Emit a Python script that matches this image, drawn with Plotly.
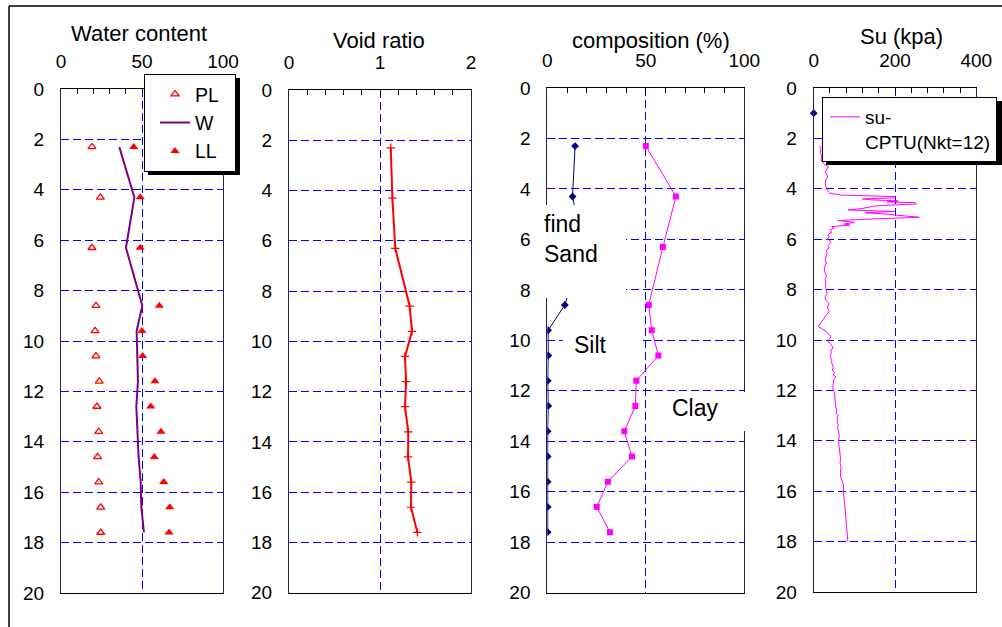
import plotly.graph_objects as go

# ---------------- data ----------------
depth = [2.3, 4.3, 6.3, 8.6, 9.6, 10.6, 11.6, 12.6, 13.6, 14.6, 15.6, 16.6, 17.6]
pl_vals = [19.1, 24.3, 19.1, 21.6, 21.0, 21.6, 23.6, 22.2, 23.3, 22.6, 23.3, 24.5, 24.5]
w_vals = [36.0, 45.3, 40.1, 50.2, 46.7, 46.9, 47.5, 46.5, 47.3, 47.9, 49.2, 49.6, 51.2]
ll_vals = [44.9, 48.9, 48.9, 60.7, 50.0, 50.4, 58.0, 55.4, 61.7, 57.6, 63.4, 67.1, 66.7]
void_vals = [1.118, 1.136, 1.168, 1.326, 1.352, 1.275, 1.286, 1.275, 1.311, 1.308, 1.344, 1.341, 1.41]
sand_vals = [14.1, 12.8, 18.0, 8.9, 0.4, 0.5, 0.2, 0.5, 0.2, 0.2, 0.2, 0.2, 0.2]
clay_vals = [50.0, 65.3, 58.7, 51.5, 53.0, 56.4, 45.2, 44.7, 39.1, 43.0, 30.8, 25.1, 31.8]

su_depth = [2.3, 2.4, 2.55, 2.7, 2.85, 3.0, 3.13, 3.25, 3.32, 3.45, 3.52, 3.65, 3.78, 3.9, 3.98,
            4.1, 4.18, 4.25, 4.29, 4.31, 4.36, 4.40, 4.44, 4.48, 4.52, 4.55, 4.6, 4.68, 4.78,
            4.84, 4.9, 4.95, 5.0, 5.04, 5.1, 5.13, 5.2, 5.26, 5.33, 5.4, 5.44, 5.5, 5.56, 5.63,
            5.72, 5.8, 5.9, 6.0, 6.08, 6.16, 6.25, 6.35, 6.43, 6.55, 6.7, 6.83, 6.95, 7.1, 7.22,
            7.35, 7.48, 7.6, 7.75, 7.88, 8.0, 8.15, 8.3, 8.41, 8.55, 8.7, 8.88, 9.0, 9.15, 9.3,
            9.42, 9.47, 9.55, 9.66, 9.77, 9.87, 9.97, 10.07, 10.2, 10.33, 10.4, 10.53, 10.65,
            10.79, 10.9, 11.06, 11.2, 11.3, 11.39, 11.45, 11.55, 11.7, 11.85, 11.98, 12.1, 12.25,
            12.4, 12.55, 12.65, 12.8, 12.9, 13.0, 13.04, 13.2, 13.35, 13.5, 13.64, 13.8, 14.03,
            14.2, 14.37, 14.5, 14.7, 14.9, 15.03, 15.2, 15.42, 15.6, 15.75, 15.95, 16.1, 16.28,
            16.5, 16.68, 16.9, 17.1, 17.25, 17.41, 17.6, 17.8, 17.94, 18.0]
su_vals = [14, 18, 16, 20, 18, 24, 36, 30, 28, 33, 34, 30, 28, 30, 31,
           35, 40, 70, 150, 200, 200, 120, 143, 208, 180, 249, 253, 150, 120,
           85, 200, 127, 175, 200, 240, 260, 140, 60, 100, 75, 89, 44, 50, 40,
           45, 36, 38, 34, 42, 40, 35, 38, 31, 33, 30, 28, 31, 27, 26,
           29, 31, 28, 30, 29, 30, 33, 28, 29, 38, 34, 38, 31, 25, 18,
           12, 11, 20, 31, 36, 43, 38, 36, 44, 48, 42, 43, 40,
           45, 44, 48, 46, 51, 48, 54, 50, 48, 47, 48, 52, 52,
           53, 54, 54, 57, 55, 61, 58, 58, 60, 59, 61, 63, 61,
           62, 63, 64, 66, 65, 67, 66, 66, 70, 73, 73, 74, 75,
           76, 77, 78, 79, 80, 81, 82, 83, 84, 84]
su_point_depth = [1.0]
su_point_vals = [0]

depth_ticks = list(range(0, 21, 2))

# ---------------- layout helpers ----------------
W_, H_ = 1002, 627
def px(x):
    return x / W_
def py(y):
    return 1 - y / H_

FONT = "Liberation Sans, Arial, sans-serif"
GRID = "#0000FF"
DASH = "8px,4px"
NB = "\u00a0"

fig = go.Figure()

# Panel 1: water content
fig.add_trace(go.Scatter(x=pl_vals, y=depth, mode="markers", name="PL" + NB * 2,
                         marker=dict(symbol="triangle-up-open", size=7, color="red",
                                     line=dict(width=1.3, color="red")),
                         xaxis="x", yaxis="y", legend="legend"))
fig.add_trace(go.Scatter(x=w_vals, y=depth, mode="lines", name="W",
                         line=dict(color="#800080", width=2),
                         xaxis="x", yaxis="y", legend="legend"))
fig.add_trace(go.Scatter(x=ll_vals, y=depth, mode="markers", name="LL",
                         marker=dict(symbol="triangle-up", size=8, color="red"),
                         xaxis="x", yaxis="y", legend="legend"))
# Panel 2: void ratio
fig.add_trace(go.Scatter(x=void_vals, y=depth, mode="lines+markers", name="e",
                         line=dict(color="red", width=2),
                         marker=dict(symbol="cross-thin", size=6, color="red",
                                     line=dict(width=1.2, color="red")),
                         xaxis="x2", yaxis="y2", showlegend=False))
# Panel 3: composition
fig.add_trace(go.Scatter(x=sand_vals, y=depth, mode="lines+markers", name="Sand",
                         line=dict(color="#000080", width=1),
                         marker=dict(symbol="diamond", size=6, color="#000080"),
                         xaxis="x3", yaxis="y3", showlegend=False))
fig.add_trace(go.Scatter(x=clay_vals, y=depth, mode="lines+markers", name="Clay",
                         line=dict(color="#FF00FF", width=1),
                         marker=dict(symbol="square", size=6, color="#FF00FF"),
                         xaxis="x3", yaxis="y3", showlegend=False))
# Panel 4: Su
fig.add_trace(go.Scatter(x=su_point_vals, y=su_point_depth, mode="markers", name="su",
                         marker=dict(symbol="diamond", size=6, color="#000080"),
                         cliponaxis=False,
                         xaxis="x4", yaxis="y4", showlegend=False))
fig.add_trace(go.Scatter(x=su_vals, y=su_depth, mode="lines", name="su-<br>CPTU(Nkt=12)",
                         line=dict(color="#FF00FF", width=1),
                         xaxis="x4", yaxis="y4", legend="legend2"))

panels = [
    # (x0, x1, ytop, ybottom, range, dtick, minor)
    (61, 223, 89, 593, [0, 100], 50, 10),
    (289, 471, 90, 592.7, [0, 2], 1, 0.2),
    (547.3, 744.3, 88, 592.7, [0, 100], 50, 10),
    (813.7, 976.3, 88, 592, [0, 400], 200, 40),
]

layout = {}
for i, (x0, x1, yt, yb, rng, dt, mdt) in enumerate(panels, start=1):
    sfx = "" if i == 1 else str(i)
    layout["xaxis" + sfx] = dict(
        domain=[px(x0), px(x1)], range=rng, side="top", anchor="y" + sfx,
        showline=True, linecolor="black", linewidth=1, mirror=True,
        ticks="inside", ticklen=5, tickcolor="black", tickwidth=1,
        tick0=0, dtick=dt, tickfont=dict(size=19, color="black", family=FONT),
        ticklabelstandoff=12, automargin=False,
        showgrid=True, gridcolor=GRID, griddash=DASH, gridwidth=1,
        minor=dict(dtick=mdt, tick0=0, ticks="inside", ticklen=5, tickcolor="black",
                   showgrid=False),
        zeroline=False, fixedrange=True,
    )
    layout["yaxis" + sfx] = dict(
        domain=[py(yb), py(yt)], range=[20, 0], anchor="x" + sfx,
        tickmode="array", tickvals=depth_ticks, ticktext=[str(v) for v in depth_ticks],
        showline=True, linecolor="#202060", linewidth=1, mirror=True,
        ticks="", tickfont=dict(size=19, color="black", family=FONT),
        ticklabelstandoff=12, automargin=False,
        showgrid=True, gridcolor=GRID, griddash=DASH, gridwidth=1,
        zeroline=False, fixedrange=True,
    )

titles = [
    ("Water content", 138.5, 34),
    ("Void ratio", 378.7, 40.8),
    ("composition (%)", 651, 40),
    ("Su (kpa)", 901.7, 36.8),
]
annotations = []
for txt, cx, cy in titles:
    annotations.append(dict(text=txt, x=px(cx), y=py(cy), xref="paper", yref="paper",
                            xanchor="center", yanchor="middle", showarrow=False,
                            font=dict(size=22, color="black", family=FONT)))

shapes = []
# white boxes behind the soil-type labels in panel 3
for (bx0, by0, bx1, by1) in [(540, 205, 626, 298), (563, 330, 640, 362), (663, 392, 750, 431)]:
    shapes.append(dict(type="rect", xref="paper", yref="paper",
                       x0=px(bx0), x1=px(bx1), y0=py(by1), y1=py(by0),
                       fillcolor="white", line=dict(width=0), layer="above"))
labels = [("find<br>Sand", 543, 238.7), ("Silt", 572.7, 345), ("Clay", 670.7, 408)]
for txt, lx, ly in labels:
    annotations.append(dict(text=txt, x=px(lx), y=py(ly), xref="paper", yref="paper",
                            xanchor="left", yanchor="middle", align="left", showarrow=False,
                            borderpad=0,
                            font=dict(size=23, color="black", family=FONT)))

# legend shadows (drawn under the legend boxes, offset by a few px)
for (sx0, sy0, sx1, sy1) in [(148, 78, 240, 175), (826, 101, 1002, 165)]:
    shapes.append(dict(type="rect", xref="paper", yref="paper",
                       x0=px(sx0), x1=px(sx1), y0=py(sy1), y1=py(sy0),
                       fillcolor="black", line=dict(width=0), layer="above"))

# outer frame (top and left edges)
shapes.append(dict(type="line", xref="paper", yref="paper", x0=px(9), x1=1.0,
                   y0=py(6), y1=py(6), line=dict(color="black", width=1.5), layer="above"))
shapes.append(dict(type="line", xref="paper", yref="paper", x0=px(9), x1=px(9),
                   y0=0.0, y1=py(6), line=dict(color="black", width=1.5), layer="above"))

fig.update_layout(
    width=W_, height=H_,
    margin=dict(l=0, r=0, t=0, b=0, autoexpand=False),
    paper_bgcolor="white", plot_bgcolor="white",
    font=dict(family=FONT, color="black"),
    annotations=annotations, shapes=shapes,
    legend=dict(x=px(144), y=py(74), xanchor="left", yanchor="top",
                bgcolor="white", bordercolor="black", borderwidth=1,
                font=dict(size=19.5, color="black", family=FONT),
                indentation=10, tracegroupgap=0),
    legend2=dict(x=px(822), y=py(97), xanchor="left", yanchor="top",
                 bgcolor="white", bordercolor="black", borderwidth=1,
                 font=dict(size=19, color="black", family=FONT),
                 valign="top", indentation=2),
    **layout,
)

fig.write_html("out.html", config={"displayModeBar": False},
               post_script="document.body.style.margin='0px';document.body.style.overflow='hidden';")
